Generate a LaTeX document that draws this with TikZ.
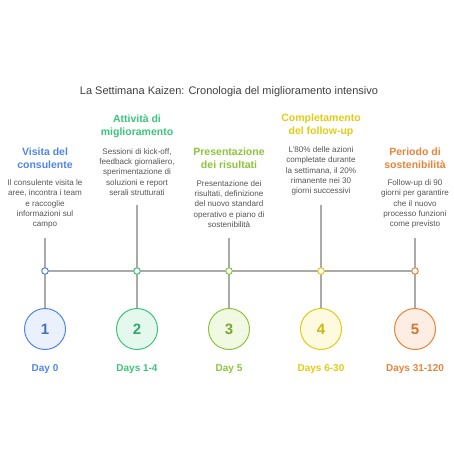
\documentclass[tikz,border=0pt]{standalone}
\usepackage{fontspec}
\setmainfont{Liberation Sans}
\definecolor{cblue}{HTML}{4F86E8}
\definecolor{cgreen}{HTML}{3CC47C}
\definecolor{clime}{HTML}{8CC43C}
\definecolor{cyellow}{HTML}{E3CB14}
\definecolor{corange}{HTML}{E8843A}
\definecolor{fblue}{HTML}{EAF1FD}
\definecolor{fgreen}{HTML}{E5F8EE}
\definecolor{flime}{HTML}{F1F9E2}
\definecolor{fyellow}{HTML}{FDFADF}
\definecolor{forange}{HTML}{FDEDE2}
\definecolor{linegray}{HTML}{AAAAAA}
\definecolor{bodygray}{HTML}{555555}
\begin{document}
\begin{tikzpicture}[x=1pt,y=-1pt,
  heading/.style={align=center,font=\fontsize{10.5}{13}\selectfont\bfseries,inner sep=0pt},
  body/.style={align=center,font=\fontsize{8.1}{10.3}\selectfont,text=bodygray,inner sep=0pt},
  conn/.style={draw=linegray,line width=1.1pt},
  dot/.style={circle,draw=#1,fill=white,line width=1pt,minimum size=6.5pt,inner sep=0pt},
  bigc/.style={circle,minimum size=41pt,inner sep=0pt,line width=1pt,font=\fontsize{15}{15}\selectfont\bfseries},
  daylab/.style={font=\fontsize{10}{11}\selectfont\bfseries,inner sep=0pt}]
\useasboundingbox (0,0) rectangle (454,454);
\node[text=black!75,inner sep=0pt,font=\fontsize{11}{13}\selectfont] (title) at (229,92) {La Settimana Kaizen: Cronologia del miglioramento intensivo};

% top-of-line coordinates
\coordinate (t1) at (45,238);
\coordinate (t2) at (137,205);
\coordinate (t3) at (229,238);
\coordinate (t4) at (321,205);
\coordinate (t5) at (415,238);

% circles
\node[bigc,draw=cblue,fill=fblue,text=cblue!85!black] (c1) at (45,329) {1};
\node[bigc,draw=cgreen,fill=fgreen,text=cgreen!85!black] (c2) at (137,329) {2};
\node[bigc,draw=clime,fill=flime,text=clime!85!black] (c3) at (229,329) {3};
\node[bigc,draw=cyellow,fill=fyellow,text=cyellow!90!black] (c4) at (321,329) {4};
\node[bigc,draw=corange,fill=forange,text=corange!90!black] (c5) at (415,329) {5};

% connectors
\foreach \i in {1,...,5}{\draw[conn] (t\i) -- (c\i.north);}
\coordinate (h1) at (45,271);
\coordinate (h5) at (415,271);
\draw[conn] (h1) -- (h5);

% dots
\node[dot=cblue] (d1) at (45,271) {};
\node[dot=cgreen] (d2) at (137,271) {};
\node[dot=clime] (d3) at (229,271) {};
\node[dot=cyellow] (d4) at (321,271) {};
\node[dot=corange] (d5) at (415,271) {};

% day labels
\node[daylab,text=cblue] (l1) at (45,369) {Day 0};
\node[daylab,text=cgreen] (l2) at (137,369) {Days 1-4};
\node[daylab,text=clime] (l3) at (229,369) {Day 5};
\node[daylab,text=cyellow] (l4) at (321,369) {Days 6-30};
\node[daylab,text=corange] (l5) at (415,369) {Days 31-120};

% headings
\node[heading,text=cblue] (h1t) at (45,158.5) {Visita del\\consulente};
\node[heading,text=cgreen] (h2t) at (137,126) {Attività di\\miglioramento};
\node[heading,text=clime] (h3t) at (229,158.5) {Presentazione\\dei risultati};
\node[heading,text=cyellow] (h4t) at (321,125) {Completamento\\del follow-up};
\node[heading,text=corange] (h5t) at (415,158.5) {Periodo di\\sostenibilità};

% bodies
\node[body] (b1) at (45,204) {Il consulente visita le\\aree, incontra i team\\e raccoglie\\informazioni sul\\campo};
\node[body] (b2) at (137,172) {Sessioni di kick-off,\\feedback giornaliero,\\sperimentazione di\\soluzioni e report\\serali strutturati};
\node[body] (b3) at (229,204) {Presentazione dei\\risultati, definizione\\del nuovo standard\\operativo e piano di\\sostenibilità};
\node[body] (b4) at (321,171) {L'80\% delle azioni\\completate durante\\la settimana, il 20\%\\rimanente nei 30\\giorni successivi};
\node[body] (b5) at (415,204) {Follow-up di 90\\giorni per garantire\\che il nuovo\\processo funzioni\\come previsto};
\end{tikzpicture}
\end{document}
